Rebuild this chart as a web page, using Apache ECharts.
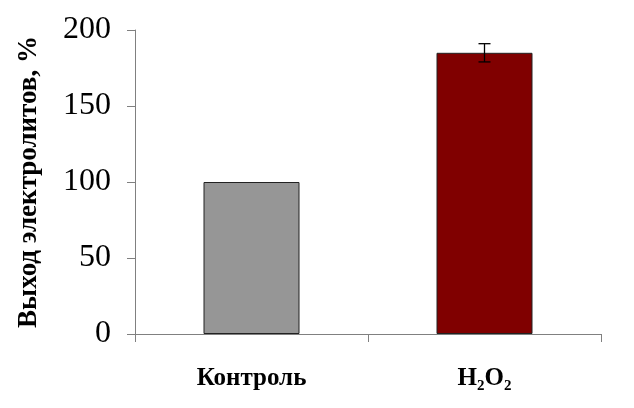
<!DOCTYPE html>
<html><head><meta charset="utf-8">
<script src="https://cdn.jsdelivr.net/npm/echarts@6/dist/echarts.min.js"></script>
<style>html,body{margin:0;padding:0;background:#fff}#c{width:634px;height:408px}</style>
</head><body><div id="c"></div>
<script>
const categories = ['Контроль', 'H₂O₂'];
const values = [100, 185];
const errors = [0, 6];
const barColors = ['#969696', '#800000'];
const yTicks = [0, 50, 100, 150, 200];

const chart = echarts.init(document.getElementById('c'));
chart.setOption({
  animation: false,
  grid: { left: 135, right: 33, top: 30, bottom: 74 },
  xAxis: {
    type: 'category', data: categories,
    axisLine: { lineStyle: { color: '#808080', width: 1 } },
    axisTick: { show: true, length: 8, inside: false, interval: 0, lineStyle: { color: '#808080' } },
    axisLabel: {
      interval: 0, hideOverlap: false,
      margin: 32, color: '#000', fontFamily: 'Liberation Serif', fontWeight: 'bold', fontSize: 25
    }
  },
  yAxis: {
    type: 'value', min: yTicks[0], max: yTicks[yTicks.length - 1], interval: 50,
    name: 'Выход электролитов, %', nameLocation: 'middle', nameGap: 92, nameRotate: 90,
    nameTextStyle: { fontFamily: 'Liberation Serif', fontWeight: 'bold', fontSize: 27, color: '#000' },
    axisLine: { show: true, lineStyle: { color: '#808080', width: 1 } },
    axisTick: { show: true, length: 8, lineStyle: { color: '#808080' } },
    splitLine: { show: false },
    axisLabel: { margin: 24, color: '#000', fontFamily: 'Liberation Serif', fontSize: 32 }
  },
  series: [
    {
      type: 'bar', barWidth: 96,
      data: values.map((v, i) => ({ value: v, itemStyle: { color: barColors[i], borderColor: '#222', borderWidth: 1 } }))
    },
    {
      type: 'custom',
      data: values.map((v, i) => [i, v, errors[i]]),
      renderItem: (params, api) => {
        const e = api.value(2);
        if (!e) return null;
        const x = api.value(0), v = api.value(1);
        const hi = api.coord([x, v + e]);
        const lo = api.coord([x, v - e]);
        const hw = 6;
        const st = { stroke: '#000', lineWidth: 1.3 };
        return { type: 'group', children: [
          { type: 'line', shape: { x1: hi[0], y1: hi[1], x2: lo[0], y2: lo[1] }, style: st },
          { type: 'line', shape: { x1: hi[0] - hw, y1: hi[1], x2: hi[0] + hw, y2: hi[1] }, style: st },
          { type: 'line', shape: { x1: lo[0] - hw, y1: lo[1], x2: lo[0] + hw, y2: lo[1] }, style: st }
        ]};
      },
      z: 10
    }
  ]
});
</script></body></html>
